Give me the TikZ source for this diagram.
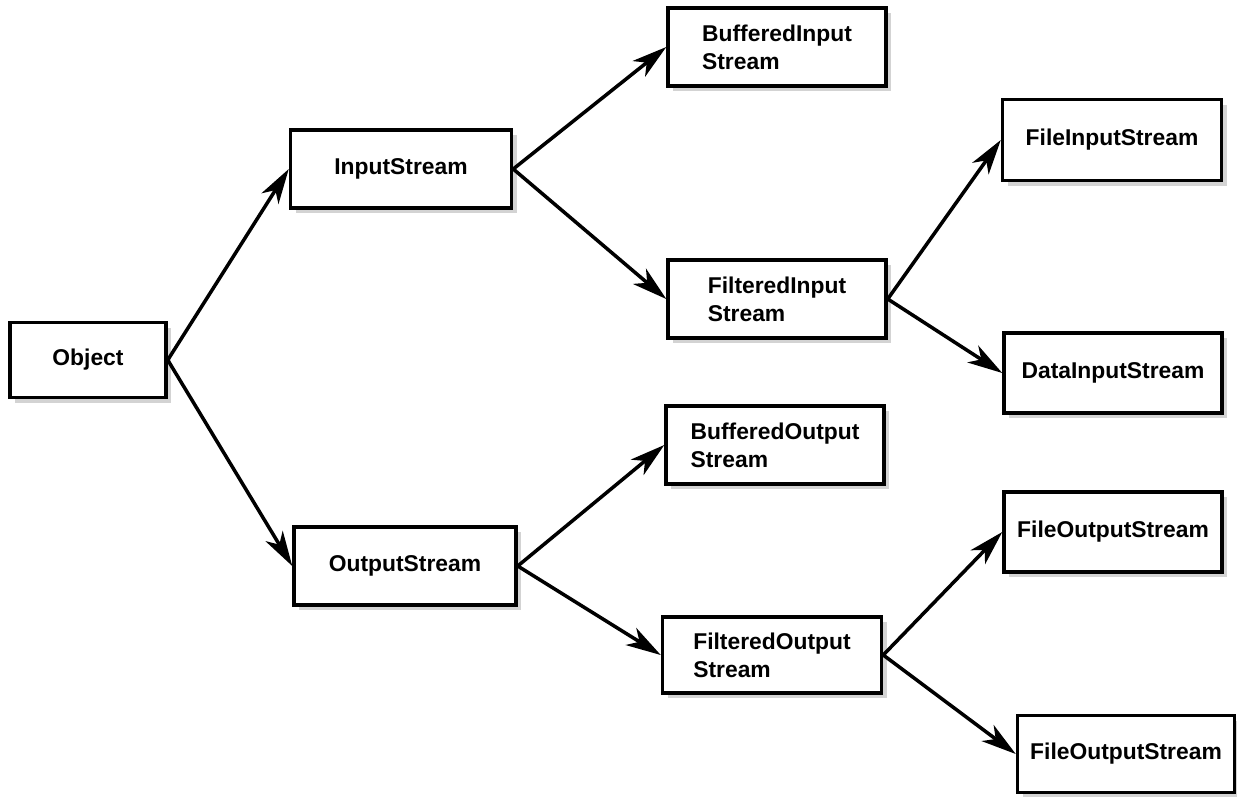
\documentclass[tikz,border=0pt]{standalone}
\usepackage{fontspec}
\setmainfont{Liberation Sans}
\usepackage{tikz}
\usetikzlibrary{arrows.meta,positioning,shadows}

\begin{document}
\begin{tikzpicture}[
    x=0.02cm, y=-0.02cm,
    box/.style={draw, line width=2pt, fill=white, minimum width=4.36cm, minimum height=1.56cm,
        font=\fontsize{13}{16}\selectfont\bfseries, align=left,
        drop shadow={shadow xshift=3pt, shadow yshift=-3pt, opacity=0.35}},
    arrow/.style={-{Stealth[length=7mm, width=4mm, inset=2mm]}, line width=2pt}
]
\useasboundingbox (0,0) rectangle (1237,796);

% Root and first level
\node[box, minimum width=3.12cm, minimum height=1.5cm] (object) at (88, 360) {Object};
\node[box, minimum width=4.42cm] (instream) at (401, 169) {InputStream};
\node[box, minimum width=4.44cm] (outstream) at (405, 566) {OutputStream};

% Second level
\node[box] (bufin) at (777, 47) {BufferedInput\\Stream};
\node[box] (filtin) at (777, 299) {FilteredInput\\Stream};
\node[box] (bufout) at (775, 445) {BufferedOutput\\Stream};
\node[box, minimum width=4.38cm, minimum height=1.52cm] (filtout) at (772, 655) {FilteredOutput\\Stream};

% Third level
\node[box, minimum width=4.38cm, minimum height=1.62cm] (filein) at (1112, 140) {FileInputStream};
\node[box, minimum height=1.6cm] (datain) at (1113, 373) {DataInputStream};
\node[box, minimum height=1.6cm] (fileout) at (1113, 532) {FileOutputStream};
\node[box, minimum width=4.34cm, minimum height=1.54cm] (fileout2) at (1126, 754) {FileOutputStream};

\draw[arrow] (object.east) -- (instream.west);
\draw[arrow] (object.east) -- (outstream.west);

\draw[arrow] (instream.east) -- (bufin.west);
\draw[arrow] (instream.east) -- (filtin.west);
\draw[arrow] (outstream.east) -- (bufout.west);
\draw[arrow] (outstream.east) -- (filtout.west);

\draw[arrow] (filtin.east) -- (filein.west);
\draw[arrow] (filtin.east) -- (datain.west);
\draw[arrow] (filtout.east) -- (fileout.west);
\draw[arrow] (filtout.east) -- (fileout2.west);

\end{tikzpicture}
\end{document}
